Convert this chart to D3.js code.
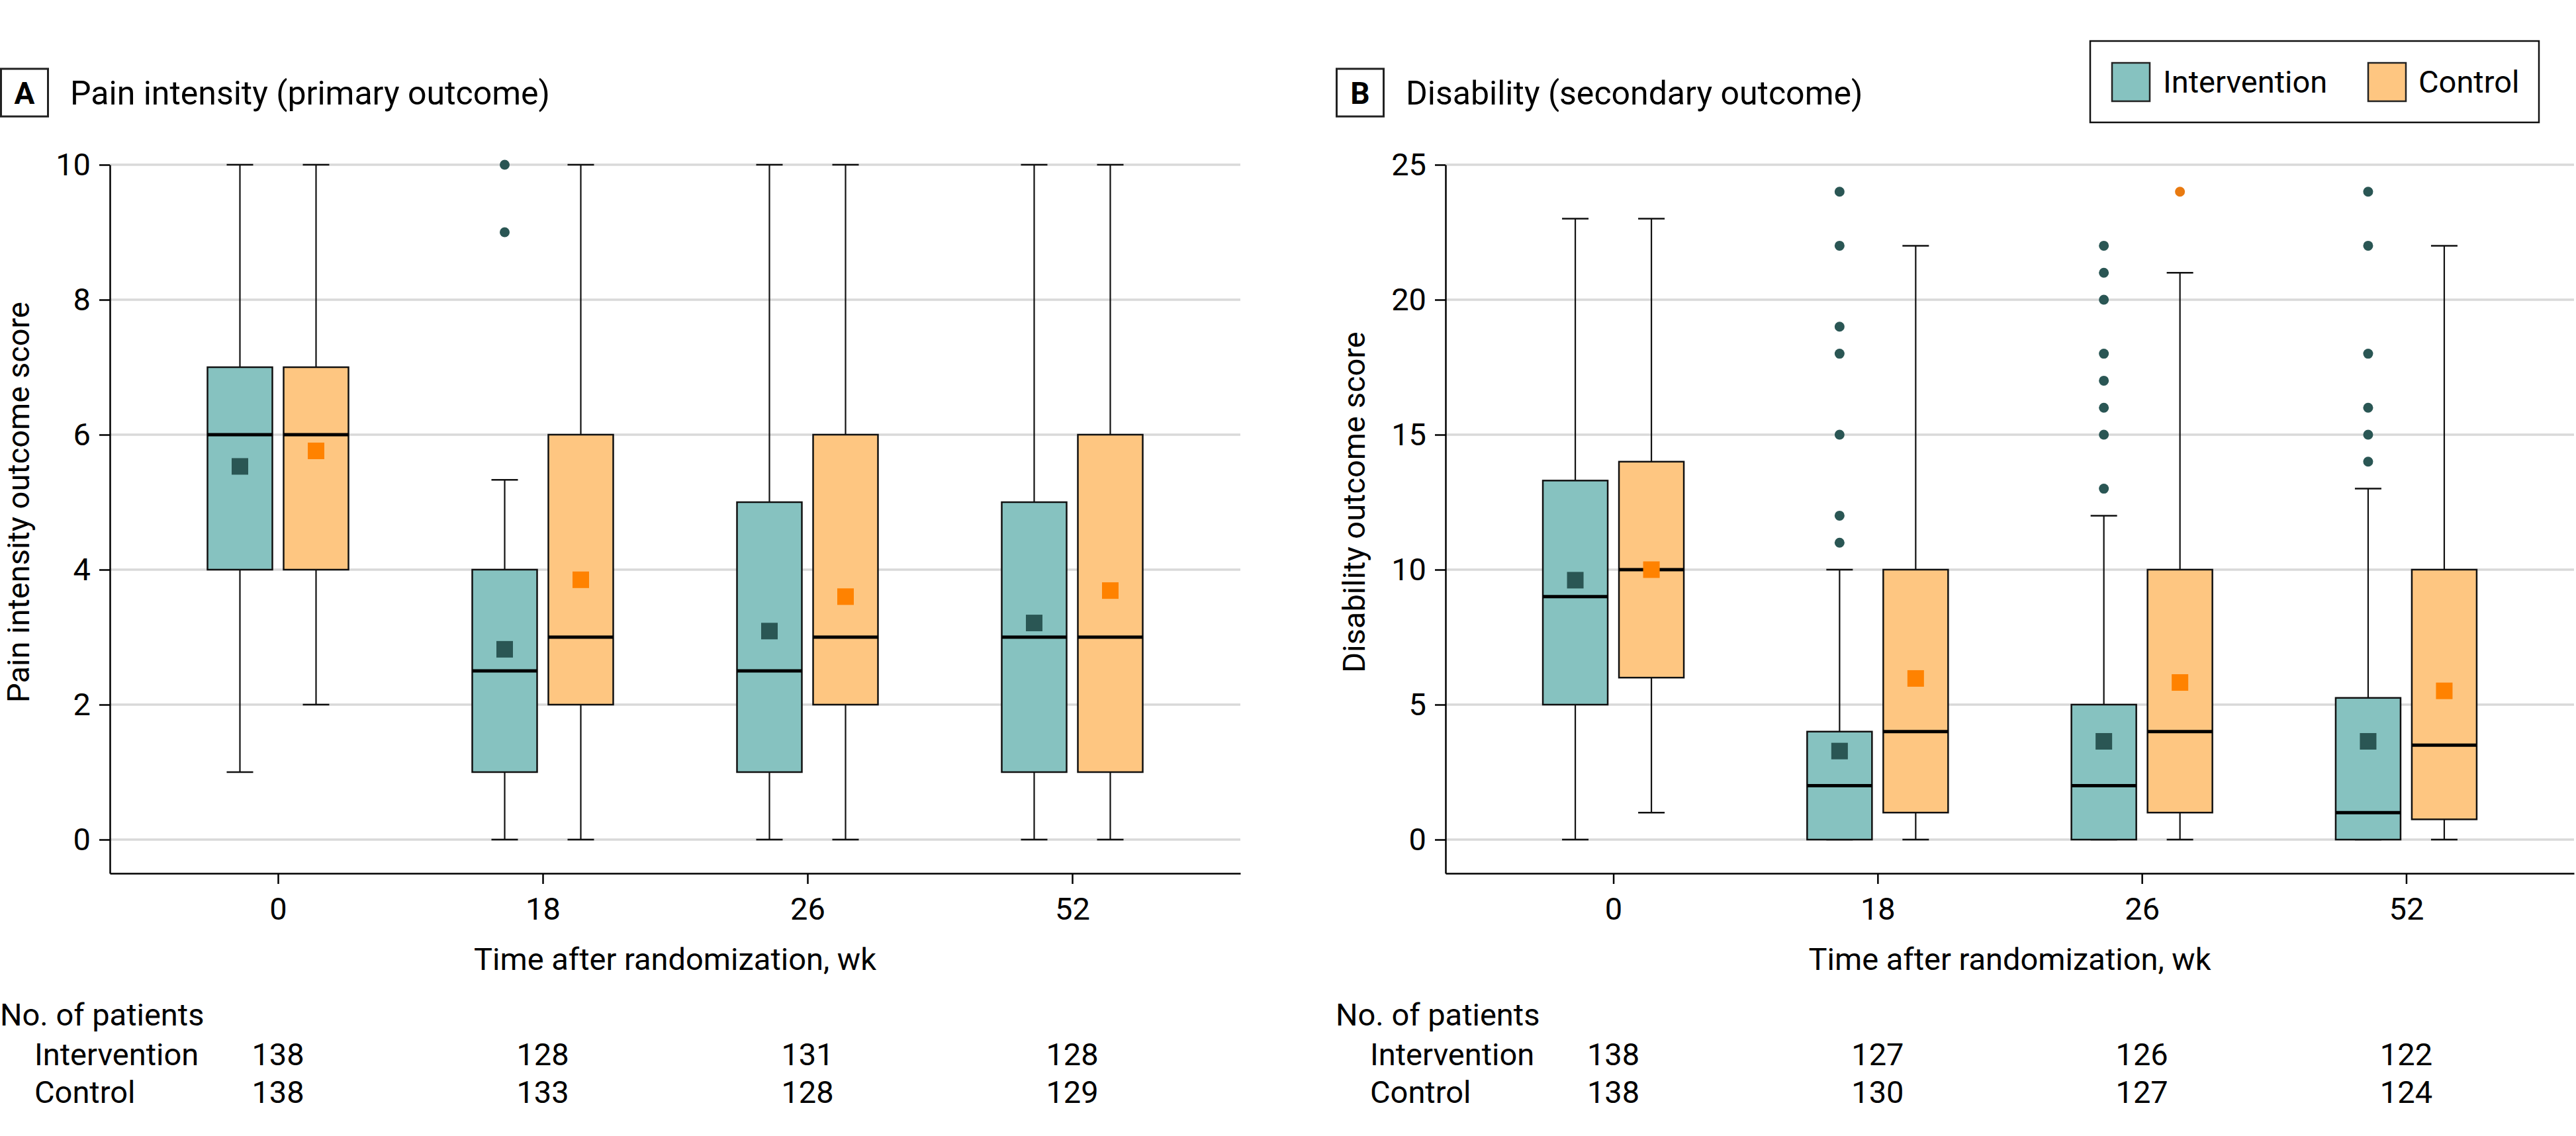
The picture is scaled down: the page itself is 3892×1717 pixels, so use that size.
<!DOCTYPE html>
<html>
<head>
<meta charset="utf-8">
<script src="https://cdn.jsdelivr.net/npm/d3@7"></script>
<style>
  html, body { margin: 0; padding: 0; background: #fff; }
  svg { display: block; }
  text { font-family: Roboto, "Open Sans", sans-serif; fill: #000; }
</style>
</head>
<body>
<script>
// ---------------- DATA ----------------
const weeks = ["0", "18", "26", "52"];
const groups = ["Intervention", "Control"];

// Panel A: pain intensity (0-10)
const painIntervention = {
  low:    [1, 0, 0, 0],
  q1:     [4, 1, 1, 1],
  median: [6, 2.5, 2.5, 3],
  q3:     [7, 4, 5, 5],
  high:   [10, 5.33, 10, 10],
  mean:   [5.53, 2.82, 3.09, 3.21],
  outliers: [[], [9, 10], [], []]
};
const painControl = {
  low:    [2, 0, 0, 0],
  q1:     [4, 2, 2, 1],
  median: [6, 3, 3, 3],
  q3:     [7, 6, 6, 6],
  high:   [10, 10, 10, 10],
  mean:   [5.76, 3.85, 3.60, 3.69],
  outliers: [[], [], [], []]
};

// Panel B: disability (0-24)
const disIntervention = {
  low:    [0, 0, 0, 0],
  q1:     [5, 0, 0, 0],
  median: [9, 2, 2, 1],
  q3:     [13.3, 4, 5, 5.25],
  high:   [23, 10, 12, 13],
  mean:   [9.61, 3.28, 3.64, 3.64],
  outliers: [[], [11, 12, 15, 18, 19, 22, 24], [13, 15, 16, 17, 18, 20, 21, 22], [14, 15, 16, 18, 22, 24]]
};
const disControl = {
  low:    [1, 0, 0, 0],
  q1:     [6, 1, 1, 0.75],
  median: [10, 4, 4, 3.5],
  q3:     [14, 10, 10, 10],
  high:   [23, 22, 21, 22],
  mean:   [10.0, 5.97, 5.82, 5.51],
  outliers: [[], [], [24], []]
};

// Number of patients
const painNIntervention = [138, 128, 131, 128];
const painNControl      = [138, 133, 128, 129];
const disNIntervention  = [138, 127, 126, 122];
const disNControl       = [138, 130, 127, 124];

const painTicks = [0, 2, 4, 6, 8, 10];
const disTicks  = [0, 5, 10, 15, 20, 25];

// ---------------- STYLE ----------------
const W = 3892, H = 1717;
const fillColor  = { Intervention: "#86c2c0", Control: "#fec681" };
const meanColor  = { Intervention: "#2a5654", Control: "#ff8200" };
const outColor   = { Intervention: "#2a5654", Control: "#e97a10" };
const FS = 47;

const panels = [
  { letter: "A", title: "Pain intensity (primary outcome)", yLabel: "Pain intensity outcome score",
    dx: 0, left: 166, right: 1874, yDomain: [-0.5, 10], ticks: painTicks,
    data: { Intervention: painIntervention, Control: painControl },
    n: { Intervention: painNIntervention, Control: painNControl } },
  { letter: "B", title: "Disability (secondary outcome)", yLabel: "Disability outcome score",
    dx: 2018, left: 2184, right: 3889, yDomain: [-1.25, 25], ticks: disTicks,
    data: { Intervention: disIntervention, Control: disControl },
    n: { Intervention: disNIntervention, Control: disNControl } }
];

const svg = d3.select("body").append("svg").attr("width", W).attr("height", H);

const plotTop = 249, plotBottom = 1320;
const boxW = 98, capW = 40;

panels.forEach(p => {
  const g = svg.append("g");
  const x = d3.scalePoint().domain(weeks).range([p.left, p.right]).padding(0.635);
  const xg = d3.scalePoint().domain(groups).range([-57.5, 57.5]);
  const y = d3.scaleLinear().domain(p.yDomain).range([plotBottom, plotTop]);

  // gridlines
  g.append("g").selectAll("line").data(p.ticks).join("line")
    .attr("x1", p.left).attr("x2", p.right)
    .attr("y1", d => y(d)).attr("y2", d => y(d))
    .attr("stroke", "#d9d9d9").attr("stroke-width", 3.3);

  // y axis
  const ya = g.append("g").attr("transform", `translate(${p.left},0)`)
    .call(d3.axisLeft(y).tickValues(p.ticks).tickSize(16).tickSizeOuter(0).tickPadding(13));
  ya.select(".domain").attr("stroke", "#000").attr("stroke-width", 2.5);
  ya.selectAll(".tick line").attr("stroke", "#000").attr("stroke-width", 2.5);
  ya.selectAll(".tick text").attr("font-size", FS).attr("font-family", "Roboto").attr("fill", "#000");

  // x axis
  const xa = g.append("g").attr("transform", `translate(0,${plotBottom})`)
    .call(d3.axisBottom(x).tickSize(16).tickSizeOuter(0).tickPadding(21));
  xa.select(".domain").attr("stroke", "#000").attr("stroke-width", 2.5);
  xa.selectAll(".tick line").attr("stroke", "#000").attr("stroke-width", 2.5);
  xa.selectAll(".tick text").attr("font-size", FS).attr("font-family", "Roboto").attr("fill", "#000");

  // boxes
  groups.forEach(grp => {
    const s = p.data[grp];
    weeks.forEach((w, i) => {
      const cx = x(w) + xg(grp);
      const bg = g.append("g");
      // whiskers
      bg.append("line").attr("x1", cx).attr("x2", cx).attr("y1", y(s.q3[i])).attr("y2", y(s.high[i]))
        .attr("stroke", "#111").attr("stroke-width", 2.2);
      bg.append("line").attr("x1", cx).attr("x2", cx).attr("y1", y(s.q1[i])).attr("y2", y(s.low[i]))
        .attr("stroke", "#111").attr("stroke-width", 2.2);
      [s.high[i], s.low[i]].forEach(v => {
        bg.append("line").attr("x1", cx - capW / 2).attr("x2", cx + capW / 2)
          .attr("y1", y(v)).attr("y2", y(v)).attr("stroke", "#111").attr("stroke-width", 2.5);
      });
      // box
      bg.append("rect").attr("x", cx - boxW / 2).attr("width", boxW)
        .attr("y", y(s.q3[i])).attr("height", y(s.q1[i]) - y(s.q3[i]))
        .attr("fill", fillColor[grp]).attr("stroke", "#111").attr("stroke-width", 2.5);
      // median
      bg.append("line").attr("x1", cx - boxW / 2).attr("x2", cx + boxW / 2)
        .attr("y1", y(s.median[i])).attr("y2", y(s.median[i]))
        .attr("stroke", "#000").attr("stroke-width", 5);
      // mean
      bg.append("rect").attr("x", cx - 12.5).attr("y", y(s.mean[i]) - 12.5)
        .attr("width", 25).attr("height", 25).attr("fill", meanColor[grp]);
      // outliers
      bg.selectAll("circle").data(s.outliers[i]).join("circle")
        .attr("cx", cx).attr("cy", d => y(d)).attr("r", 7.5).attr("fill", outColor[grp]);
    });
  });

  // panel letter box + title
  g.append("rect").attr("x", p.dx + 1.5).attr("y", 104).attr("width", 71).attr("height", 72)
    .attr("fill", "none").attr("stroke", "#222").attr("stroke-width", 3);
  g.append("text").attr("x", p.dx + 37).attr("y", 157).attr("text-anchor", "middle")
    .attr("font-size", 46).attr("font-weight", "bold").text(p.letter);
  g.append("text").attr("x", p.dx + 106).attr("y", 158).attr("font-size", 50).text(p.title);

  // y label
  g.append("text")
    .attr("transform", `translate(${p.left - 122},${(y(0) + y(p.ticks[p.ticks.length - 1])) / 2}) rotate(-90)`)
    .attr("text-anchor", "middle").attr("font-size", FS).text(p.yLabel);

  // x label
  g.append("text").attr("x", (p.left + p.right) / 2).attr("y", 1466)
    .attr("text-anchor", "middle").attr("font-size", FS).text("Time after randomization, wk");

  // number of patients table
  g.append("text").attr("x", p.dx).attr("y", 1550).attr("font-size", FS).text("No. of patients");
  const rows = [["Intervention", 1610], ["Control", 1667]];
  rows.forEach(([grp, yy]) => {
    g.append("text").attr("x", p.dx + 52).attr("y", yy).attr("font-size", FS).text(grp);
    g.append("g").selectAll("text").data(weeks).join("text")
      .attr("x", d => x(d)).attr("y", yy).attr("text-anchor", "middle")
      .attr("font-size", FS).text((d, i) => p.n[grp][i]);
  });
});

// legend
const lg = svg.append("g");
lg.append("rect").attr("x", 3158).attr("y", 62).attr("width", 678).attr("height", 123)
  .attr("fill", "#fff").attr("stroke", "#111").attr("stroke-width", 2.5);
const legendItems = [
  { grp: "Intervention", sx: 3191, tx: 3268 },
  { grp: "Control", sx: 3578, tx: 3654 }
];
lg.selectAll("rect.sw").data(legendItems).join("rect").attr("class", "sw")
  .attr("x", d => d.sx).attr("y", 95).attr("width", 57).attr("height", 58)
  .attr("fill", d => fillColor[d.grp]).attr("stroke", "#222").attr("stroke-width", 2.5);
lg.selectAll("text").data(legendItems).join("text")
  .attr("x", d => d.tx).attr("y", 140).attr("font-size", FS).text(d => d.grp);
</script>
</body>
</html>
